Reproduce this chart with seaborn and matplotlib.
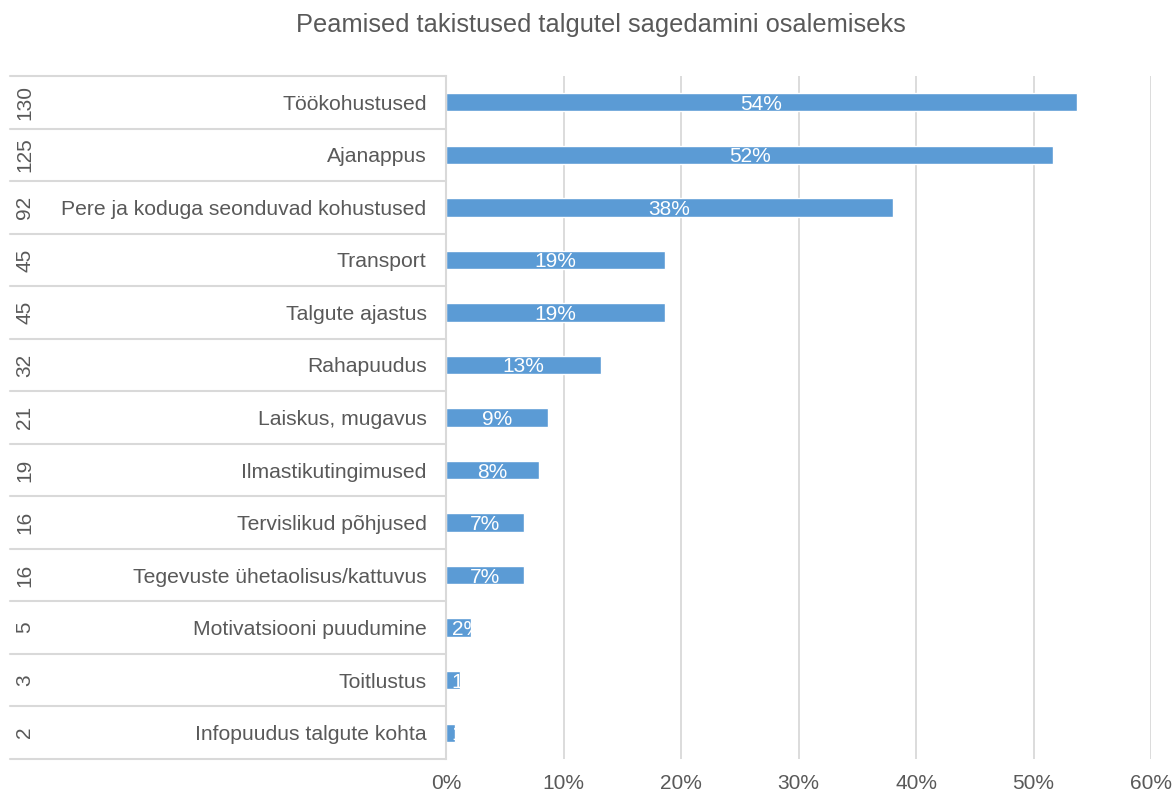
import matplotlib
matplotlib.use('Agg')
import matplotlib.pyplot as plt
import matplotlib.transforms as mtransforms
import seaborn as sns
import pandas as pd

# data
reasons = ['Töökohustused', 'Ajanappus', 'Pere ja koduga seonduvad kohustused',
           'Transport', 'Talgute ajastus', 'Rahapuudus', 'Laiskus, mugavus',
           'Ilmastikutingimused', 'Tervislikud põhjused',
           'Tegevuste ühetaolisus/kattuvus', 'Motivatsiooni puudumine',
           'Toitlustus', 'Infopuudus talgute kohta']
counts = [130, 125, 92, 45, 45, 32, 21, 19, 16, 16, 5, 3, 2]
shares = [53.7, 51.7, 38.0, 18.6, 18.6, 13.2, 8.7, 7.9, 6.6, 6.6, 2.1, 1.2, 0.8]
x_ticks = [0, 10, 20, 30, 40, 50, 60]

df = pd.DataFrame({'reason': reasons, 'count': counts, 'share': shares})

sns.set_style('white')
plt.rcParams['font.family'] = ['Liberation Sans', 'DejaVu Sans']
text_col = '#595959'
grid_col = '#D9D9D9'
bar_col = '#5B9BD5'

fig = plt.figure(figsize=(11.73, 7.94), dpi=100)
ax = fig.add_axes([446 / 1173, 1 - 759 / 794, 705 / 1173, (759 - 76) / 794])

sns.barplot(data=df, x='share', y='reason', orient='h', color=bar_col,
            width=0.35, saturation=1, ax=ax)

ax.set_xlim(0, 60)
ax.set_ylim(len(reasons) - 0.5, -0.5)
ax.set_xticks(x_ticks)
ax.set_xticklabels([f'{t}%' for t in x_ticks], fontsize=15, color=text_col)
ax.tick_params(axis='x', length=0, pad=11)
ax.tick_params(axis='y', length=0, pad=14)
ax.set_yticks(range(len(reasons)))
ax.set_yticklabels(reasons, fontsize=15.2, color=text_col)
ax.set_xlabel('')
ax.set_ylabel('')

ax.xaxis.grid(True, color=grid_col, linewidth=1.3)
ax.set_axisbelow(True)
for side in ['top', 'right', 'bottom']:
    ax.spines[side].set_visible(False)
ax.spines['left'].set_color(grid_col)
ax.spines['left'].set_linewidth(1.5)

# category table on the left: separators and counts
trans = mtransforms.blended_transform_factory(ax.transAxes, ax.transData)
x0 = (10 - 446) / 705
for i in range(len(reasons) + 1):
    ax.plot([x0, 0], [i - 0.5, i - 0.5], color=grid_col, lw=1.5,
            transform=trans, clip_on=False)
for i, c in enumerate(counts):
    ax.text((25 - 446) / 705, i, str(c), rotation=90, ha='center', va='center',
            fontsize=15, color=text_col, transform=trans)

# percentage labels inside bars, clipped to the bar like Excel does
for bar, s in zip(ax.patches, shares):
    y = bar.get_y() + bar.get_height() / 2
    if s >= 4:
        t = ax.text(s / 2, y, f'{round(s)}%', ha='center', va='center_baseline',
                    color='white', fontsize=15)
    else:
        t = ax.text(0.5, y, f'{round(s)}%', ha='left', va='center_baseline',
                    color='white', fontsize=15)
    t.set_clip_path(bar)

fig.text(601 / 1173, 1 - 25 / 794, 'Peamised takistused talgutel sagedamini osalemiseks',
         ha='center', va='center', fontsize=18.3, color=text_col)

plt.savefig('out.png', dpi=100)
